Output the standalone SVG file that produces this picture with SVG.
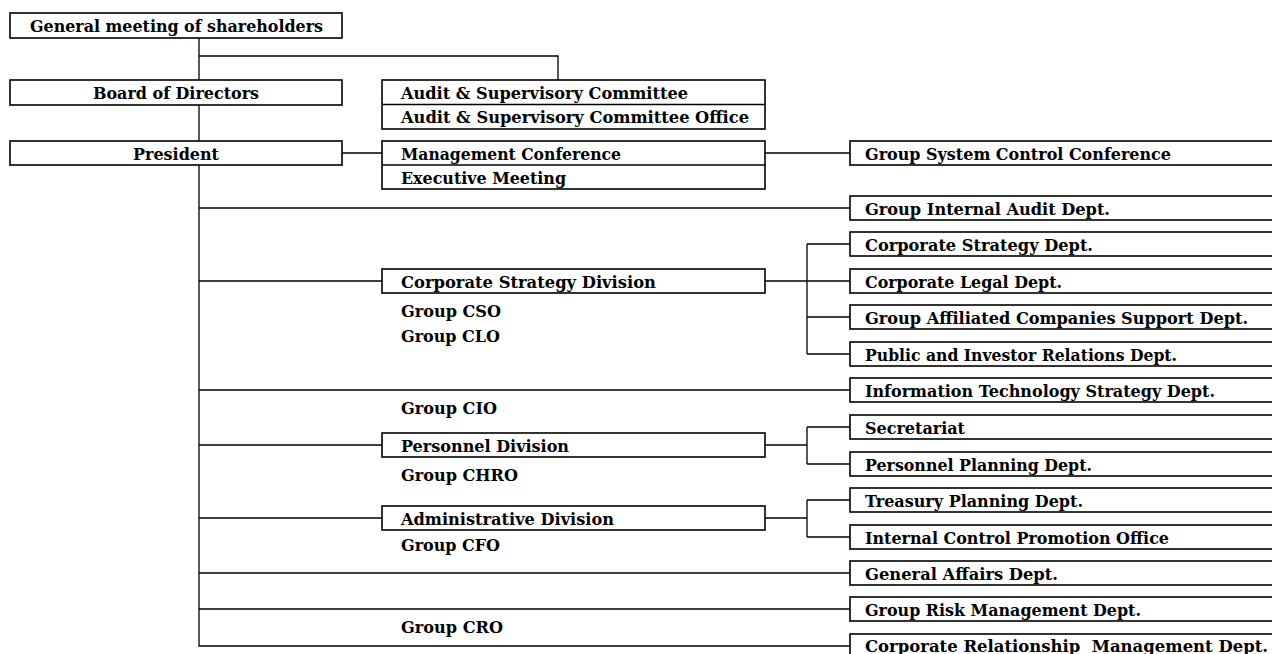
<svg xmlns="http://www.w3.org/2000/svg" width="1272" height="654" viewBox="0 0 1272 654">
<style>
.box{fill:#fff;stroke:#000;stroke-width:1.6}
.ln{stroke:#000;stroke-width:1.3;fill:none}
.t{font-family:"DejaVu Serif","Liberation Serif",serif;font-weight:bold;font-size:16px;fill:#000}
.c{text-anchor:middle}
</style>
<rect width="1272" height="654" fill="#fff"/>
<g id="connectors">
<path class="ln" d="M199,38V646H850"/>
<path class="ln" d="M199,56H558V80"/>
<path class="ln" d="M342,153H382"/>
<path class="ln" d="M765,153H850"/>
<path class="ln" d="M199,208H850"/>
<path class="ln" d="M199,281H382"/>
<path class="ln" d="M765,281H807"/>
<path class="ln" d="M807,244V354M807,244H850M807,281H850M807,317H850M807,354H850"/>
<path class="ln" d="M199,390H850"/>
<path class="ln" d="M199,445H382M765,445H807M807,427V464M807,427H850M807,464H850"/>
<path class="ln" d="M199,518H382M765,518H807M807,500V537M807,500H850M807,537H850"/>
<path class="ln" d="M199,573H850"/>
<path class="ln" d="M199,609H850"/>
</g>
<g id="gms"><rect class="box" x="10" y="13" width="332" height="25"/><text class="t c" x="176.5" y="31.5" textLength="293" lengthAdjust="spacingAndGlyphs">General meeting of shareholders</text></g>
<g id="board"><rect class="box" x="10" y="80" width="332" height="25"/><text class="t c" x="176" y="98.5" textLength="166" lengthAdjust="spacingAndGlyphs">Board of Directors</text></g>
<g id="president"><rect class="box" x="10" y="141" width="332" height="24"/><text class="t c" x="176" y="159.5" textLength="86" lengthAdjust="spacingAndGlyphs">President</text></g>
<g id="audit"><rect class="box" x="382" y="80" width="383" height="49"/><path class="ln" d="M382,104.5H765"/>
<text class="t" x="401" y="98.5" textLength="287" lengthAdjust="spacingAndGlyphs">Audit &amp; Supervisory Committee</text>
<text class="t" x="401" y="123" textLength="348" lengthAdjust="spacingAndGlyphs">Audit &amp; Supervisory Committee Office</text></g>
<g id="mgmt"><rect class="box" x="382" y="141" width="383" height="48"/><path class="ln" d="M382,165H765"/>
<text class="t" x="401" y="159.5" textLength="220" lengthAdjust="spacingAndGlyphs">Management Conference</text>
<text class="t" x="401" y="183.5" textLength="165" lengthAdjust="spacingAndGlyphs">Executive Meeting</text></g>
<g id="csd"><rect class="box" x="382" y="269" width="383" height="24"/><text class="t" x="401" y="287.5" textLength="255" lengthAdjust="spacingAndGlyphs">Corporate Strategy Division</text>
<text class="t" x="401" y="317" textLength="100" lengthAdjust="spacingAndGlyphs">Group CSO</text>
<text class="t" x="401" y="342" textLength="99" lengthAdjust="spacingAndGlyphs">Group CLO</text></g>
<g id="cio"><text class="t" x="401" y="414" textLength="96" lengthAdjust="spacingAndGlyphs">Group CIO</text></g>
<g id="pd"><rect class="box" x="382" y="433" width="383" height="24"/><text class="t" x="401" y="451.5" textLength="168" lengthAdjust="spacingAndGlyphs">Personnel Division</text>
<text class="t" x="401" y="481" textLength="117" lengthAdjust="spacingAndGlyphs">Group CHRO</text></g>
<g id="ad"><rect class="box" x="382" y="506" width="383" height="24"/><text class="t" x="401" y="524.5" textLength="213" lengthAdjust="spacingAndGlyphs">Administrative Division</text>
<text class="t" x="401" y="551" textLength="99" lengthAdjust="spacingAndGlyphs">Group CFO</text></g>
<g id="cro"><text class="t" x="401" y="633" textLength="102" lengthAdjust="spacingAndGlyphs">Group CRO</text></g>
<g id="gscc"><rect class="box" x="850" y="141" width="440" height="24"/><text class="t" x="865" y="159.5" textLength="306" lengthAdjust="spacingAndGlyphs">Group System Control Conference</text></g>
<g id="giad"><rect class="box" x="850" y="196" width="440" height="24"/><text class="t" x="865" y="214.5" textLength="245" lengthAdjust="spacingAndGlyphs">Group Internal Audit Dept.</text></g>
<g id="csdept"><rect class="box" x="850" y="232" width="440" height="24"/><text class="t" x="865" y="250.5" textLength="228" lengthAdjust="spacingAndGlyphs">Corporate Strategy Dept.</text></g>
<g id="cld"><rect class="box" x="850" y="269" width="440" height="24"/><text class="t" x="865" y="287.5" textLength="197" lengthAdjust="spacingAndGlyphs">Corporate Legal Dept.</text></g>
<g id="gacsd"><rect class="box" x="850" y="305" width="440" height="24"/><text class="t" x="865" y="323.5" textLength="383" lengthAdjust="spacingAndGlyphs">Group Affiliated Companies Support Dept.</text></g>
<g id="pird"><rect class="box" x="850" y="342" width="440" height="24"/><text class="t" x="865" y="360.5" textLength="312" lengthAdjust="spacingAndGlyphs">Public and Investor Relations Dept.</text></g>
<g id="itsd"><rect class="box" x="850" y="378" width="440" height="24"/><text class="t" x="865" y="396.5" textLength="350" lengthAdjust="spacingAndGlyphs">Information Technology Strategy Dept.</text></g>
<g id="sec"><rect class="box" x="850" y="415" width="440" height="24"/><text class="t" x="865" y="433.5" textLength="100" lengthAdjust="spacingAndGlyphs">Secretariat</text></g>
<g id="ppd"><rect class="box" x="850" y="452" width="440" height="24"/><text class="t" x="865" y="470.5" textLength="227" lengthAdjust="spacingAndGlyphs">Personnel Planning Dept.</text></g>
<g id="tpd"><rect class="box" x="850" y="488" width="440" height="24"/><text class="t" x="865" y="506.5" textLength="218" lengthAdjust="spacingAndGlyphs">Treasury Planning Dept.</text></g>
<g id="icpo"><rect class="box" x="850" y="525" width="440" height="24"/><text class="t" x="865" y="543.5" textLength="304" lengthAdjust="spacingAndGlyphs">Internal Control Promotion Office</text></g>
<g id="gad"><rect class="box" x="850" y="561" width="440" height="24"/><text class="t" x="865" y="579.5" textLength="193" lengthAdjust="spacingAndGlyphs">General Affairs Dept.</text></g>
<g id="grmd"><rect class="box" x="850" y="597" width="440" height="24"/><text class="t" x="865" y="615.5" textLength="276" lengthAdjust="spacingAndGlyphs">Group Risk Management Dept.</text></g>
<g id="crmd"><rect class="box" x="850" y="634" width="440" height="30"/><text class="t" x="865" y="652" textLength="403" lengthAdjust="spacingAndGlyphs" xml:space="preserve">Corporate Relationship  Management Dept.</text></g>
</svg>
